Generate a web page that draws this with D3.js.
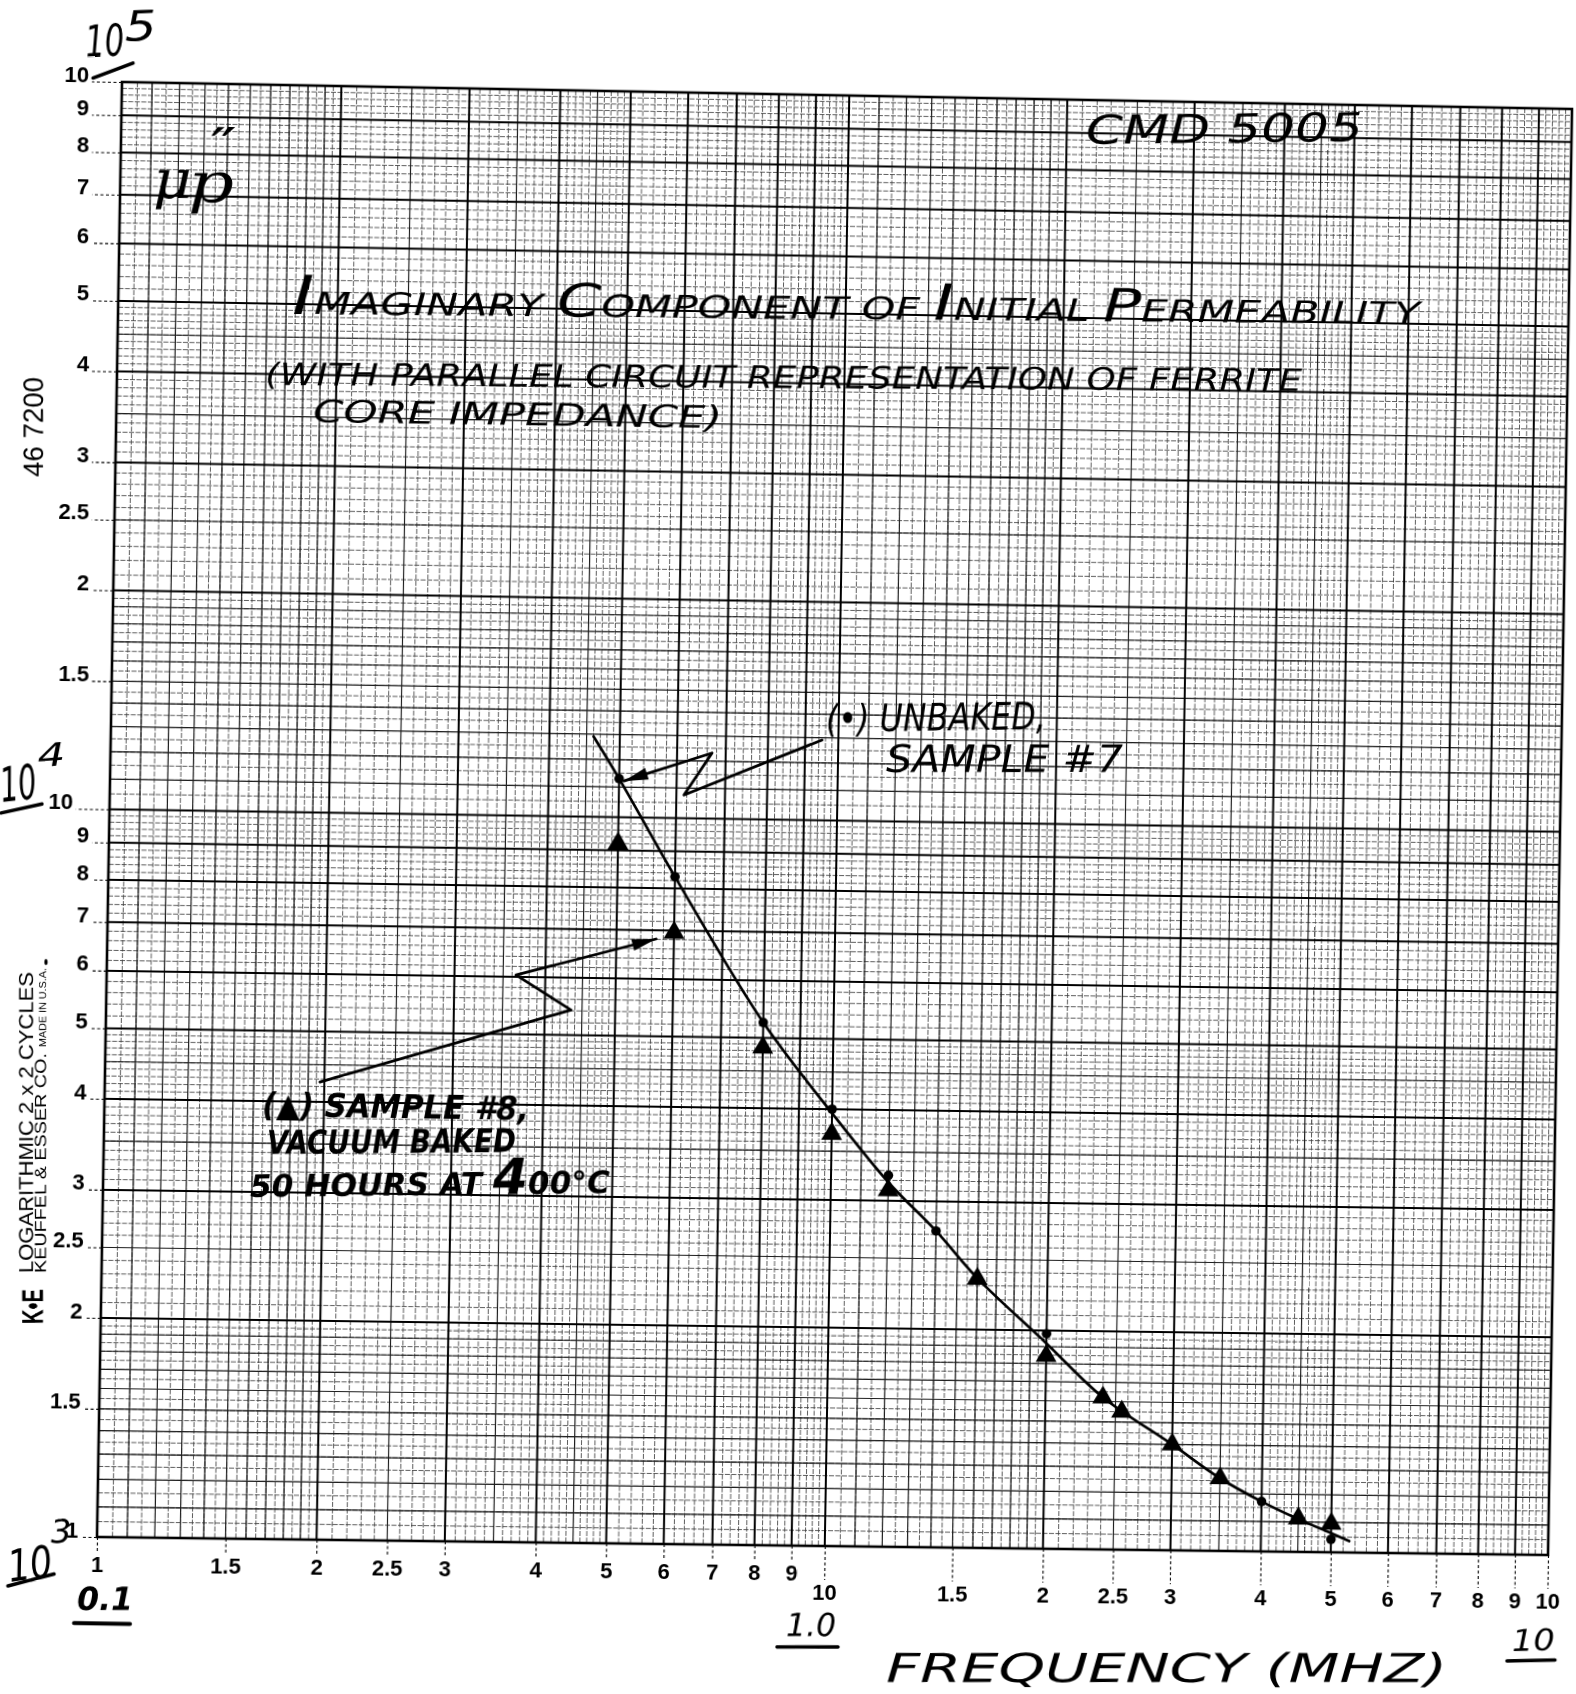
<!DOCTYPE html>
<html>
<head>
<meta charset="utf-8">
<title>Imaginary component of initial permeability</title>
<script src="https://cdn.jsdelivr.net/npm/d3@7/dist/d3.min.js"></script>
<style>
  html, body { margin: 0; padding: 0; background: #fff; overflow: hidden; }
  #sheet { position: absolute; left: 0; top: 0; transform-origin: 0 0; overflow: visible; }
</style>
</head>
<body>
<svg id="sheet" width="1576" height="1694"></svg>
<script>
// ---- values ----
const xTickVals = [0.1, 0.15, 0.2, 0.25, 0.3, 0.4, 0.5, 0.6, 0.7, 0.8, 0.9];
const xTickLabels = ["1", "1.5", "2", "2.5", "3", "4", "5", "6", "7", "8", "9"];
const xTickVals2 = [1, 1.5, 2, 2.5, 3, 4, 5, 6, 7, 8, 9, 10];
const xTickLabels2 = ["10", "1.5", "2", "2.5", "3", "4", "5", "6", "7", "8", "9", "10"];
const yTickVals = [1e3, 1.5e3, 2e3, 2.5e3, 3e3, 4e3, 5e3, 6e3, 7e3, 8e3, 9e3,
                   1e4, 1.5e4, 2e4, 2.5e4, 3e4, 4e4, 5e4, 6e4, 7e4, 8e4, 9e4, 1e5];
const yTickLabels = ["1", "1.5", "2", "2.5", "3", "4", "5", "6", "7", "8", "9",
                     "10", "1.5", "2", "2.5", "3", "4", "5", "6", "7", "8", "9", "10"];

// (•) unbaked, sample #7
const unbakedFreq = [0.5, 0.6, 0.8, 1.0, 1.2, 1.4, 2.0, 4.0, 5.0];
const unbakedMu   = [11300, 8300, 5250, 4000, 3250, 2730, 1980, 1172, 1042];
// (▲) sample #8, vacuum baked
const bakedFreq = [0.5, 0.6, 0.8, 1.0, 1.2, 1.6, 2.0, 2.4, 2.55, 3.0, 3.5, 4.5, 5.0];
const bakedMu   = [9200, 6950, 4850, 3700, 3100, 2350, 1845, 1620, 1550, 1400, 1260, 1112, 1095];
// hand drawn curve
const curveFreq = [0.46, 0.5, 0.6, 0.8, 1.0, 1.2, 1.4, 1.6, 2.0, 2.4, 3.0, 3.5, 4.0, 4.5, 5.0, 5.3];
const curveMu   = [12900, 11300, 8300, 5250, 3950, 3180, 2730, 2355, 1920, 1622, 1400, 1260, 1172, 1110, 1063, 1037];

// ---- sheet geometry: frame in paper coords, and where the scan puts its corners ----
const L = 120, T = 80, W = 1450, H = 1455, B = T + H, R = L + W;
const corners = [[122, 82], [1572, 109], [1548, 1555], [97, 1537]]; // TL, TR, BR, BL

function squareToQuad(q) {
  const [[x0, y0], [x1, y1], [x2, y2], [x3, y3]] = q;
  const dx1 = x1 - x2, dx2 = x3 - x2, dx3 = x0 - x1 + x2 - x3;
  const dy1 = y1 - y2, dy2 = y3 - y2, dy3 = y0 - y1 + y2 - y3;
  const den = dx1 * dy2 - dx2 * dy1;
  const g = (dx3 * dy2 - dx2 * dy3) / den;
  const h = (dx1 * dy3 - dx3 * dy1) / den;
  return [[x1 - x0 + g * x1, x3 - x0 + h * x3, x0],
          [y1 - y0 + g * y1, y3 - y0 + h * y3, y0],
          [g, h, 1]];
}
function matMul(a, b) {
  return a.map(r => [0, 1, 2].map(j => r[0] * b[0][j] + r[1] * b[1][j] + r[2] * b[2][j]));
}
function matInv(m) {
  const [[a, b, c], [d, e, f], [g, h, i]] = m;
  const c00 = e * i - f * h, c01 = -(d * i - f * g), c02 = d * h - e * g;
  const det = a * c00 + b * c01 + c * c02;
  return [[c00 / det, -(b * i - c * h) / det, (b * f - c * e) / det],
          [c01 / det, (a * i - c * g) / det, -(a * f - c * d) / det],
          [c02 / det, -(a * h - b * g) / det, (a * e - b * d) / det]];
}
function apply(m, x, y) {
  const w = m[2][0] * x + m[2][1] * y + m[2][2];
  return [(m[0][0] * x + m[0][1] * y + m[0][2]) / w, (m[1][0] * x + m[1][1] * y + m[1][2]) / w];
}
const Hm = matMul(squareToQuad(corners), [[1 / W, 0, -L / W], [0, 1 / H, -T / H], [0, 0, 1]]);
const Hi = matInv(Hm);
const toScreen = (x, y) => apply(Hm, x, y);
const toPaper = (x, y) => apply(Hi, x, y);

const svg = d3.select("#sheet")
  .style("transform", `matrix3d(${Hm[0][0]},${Hm[1][0]},0,${Hm[2][0]},${Hm[0][1]},${Hm[1][1]},0,${Hm[2][1]},0,0,1,0,${Hm[0][2]},${Hm[1][2]},0,${Hm[2][2]})`);

svg.append("rect").attr("x", -200).attr("y", -200).attr("width", 2000).attr("height", 2100).attr("fill", "#fff");

// scales
const x = d3.scaleLog().domain([0.1, 10]).range([L, R]);
const y = d3.scaleLog().domain([1e3, 1e5]).range([B, T]);

// ---- log-log paper grid ----
const grid = svg.append("g");
const decX = [0.1, 1], decY = [1e3, 1e4];
const isInt = m => Math.abs(m - Math.round(m)) < 1e-6;
const fineM = d3.range(1.05, 2, 0.05).concat(d3.range(2.1, 5, 0.1), d3.range(5.2, 10, 0.2))
  .filter(m => !isInt(m));
const midM = [1.1, 1.2, 1.3, 1.4, 1.5, 1.6, 1.7, 1.8, 1.9, 2.5, 3.5, 4.5];
const majM = [1, 2, 3, 4, 5, 6, 7, 8, 9];

function gridSet(ms, color, w, dash) {
  const xs = decX.flatMap(d => ms.map(m => d * m)).filter(v => v > 0.1 && v < 10);
  const ys = decY.flatMap(d => ms.map(m => d * m)).filter(v => v > 1e3 && v < 1e5);
  const g = grid.append("g").attr("stroke", color).attr("stroke-width", w)
    .attr("stroke-dasharray", dash);
  g.selectAll(null).data(xs).join("line")
    .attr("x1", d => x(d)).attr("x2", d => x(d)).attr("y1", T).attr("y2", B);
  g.selectAll(null).data(ys).join("line")
    .attr("y1", d => y(d)).attr("y2", d => y(d)).attr("x1", L).attr("x2", R);
}
gridSet(fineM, "#404040", 0.85, "5 1.5");
gridSet(midM, "#1e1e1e", 1.15, null);
gridSet(majM, "#000", 2, null);
grid.append("rect").attr("x", L).attr("y", T).attr("width", W).attr("height", H)
  .attr("fill", "none").attr("stroke", "#000").attr("stroke-width", 2.6);

// ---- printed axes ----
const tickFont = "'Liberation Sans', Arial, sans-serif";
function styleAxis(g) {
  g.attr("font-family", tickFont).attr("font-size", 22).attr("font-weight", "bold");
  g.select(".domain").remove();
  g.selectAll(".tick line").attr("stroke", "#000").attr("stroke-width", 1.1).attr("stroke-dasharray", "3 2.5");
  g.selectAll(".tick text").attr("fill", "#000");
}
svg.append("g").attr("transform", `translate(0,${B})`)
  .call(d3.axisBottom(x).tickValues(xTickVals).tickFormat((d, i) => xTickLabels[i]).tickSize(16).tickPadding(3))
  .call(styleAxis);
svg.append("g").attr("transform", `translate(0,${B})`)
  .call(d3.axisBottom(x).tickValues(xTickVals2).tickFormat((d, i) => xTickLabels2[i]).tickSize(34).tickPadding(4))
  .call(styleAxis);

const yAxisG = svg.append("g").attr("transform", `translate(${L},0)`)
  .call(d3.axisLeft(y).tickValues(yTickVals).tickFormat((d, i) => yTickLabels[i]).tickSize(20).tickPadding(2))
  .call(styleAxis);
yAxisG.selectAll(".tick").each(function(d) {
  const yy = y(d), v = (yy - T) / H;
  const s = toScreen(L, yy);
  const edge = d === 1e4 ? 73 : (v < 0.6 ? 89 : 89 - (v - 0.6) * 27);
  const target = toPaper(edge, s[1]);
  const off = L - target[0];
  d3.select(this).select("line").attr("x2", -off + 3);
  d3.select(this).select("text").attr("x", -off).attr("dy", "0");
});

// ---- curve and points ----
const plot = svg.append("g");
const curvePts = curveFreq.map((f, i) => [x(f), y(curveMu[i])]);
plot.append("path")
  .attr("d", d3.line().curve(d3.curveCatmullRom.alpha(0.5))(curvePts))
  .attr("fill", "none").attr("stroke", "#000").attr("stroke-width", 2.7).attr("stroke-linecap", "round");

plot.selectAll(".tri").data(bakedFreq).join("path").attr("class", "tri")
  .attr("transform", (f, i) => `translate(${x(f)},${y(bakedMu[i])})`)
  .attr("d", d3.symbol(d3.symbolTriangle, 190)).attr("fill", "#000");
plot.selectAll(".dot").data(unbakedFreq).join("circle").attr("class", "dot")
  .attr("cx", f => x(f)).attr("cy", (f, i) => y(unbakedMu[i])).attr("r", 4.8).attr("fill", "#000");

// ---- handwriting and print in the margins (positions given in scan pixels) ----
const notes = svg.append("g").attr("fill", "#000");
const hand = "'DejaVu Sans Condensed', 'DejaVu Sans', sans-serif";

function note(str, p0, p1, size, opt = {}) {
  const a = toPaper(p0[0], p0[1]), b = toPaper(p1[0], p1[1]);
  const ang = Math.atan2(b[1] - a[1], b[0] - a[0]) * 180 / Math.PI;
  const len = Math.hypot(b[0] - a[0], b[1] - a[1]);
  const t = notes.append("text")
    .attr("transform", `translate(${a[0]},${a[1]}) rotate(${ang})`)
    .attr("font-family", opt.family || hand)
    .attr("font-style", opt.style || "italic")
    .attr("font-weight", opt.weight || "normal")
    .attr("font-size", size)
    .attr("textLength", len)
    .attr("lengthAdjust", "spacingAndGlyphs");
  if (Array.isArray(str)) str.forEach(s => t.append("tspan").attr("font-size", s[1] || size).text(s[0]));
  else t.text(str);
  return t;
}
function stroke(pts, w, head) {
  const pp = pts.map(p => toPaper(p[0], p[1]));
  notes.append("path").attr("d", d3.line()(pp)).attr("fill", "none").attr("stroke", "#000")
    .attr("stroke-width", w).attr("stroke-linecap", "round").attr("stroke-linejoin", "round");
  if (head) {
    const [tx, ty] = pp[pp.length - 1], [px, py] = pp[pp.length - 2];
    const len = Math.hypot(tx - px, ty - py), ux = (tx - px) / len, uy = (ty - py) / len;
    const bx = tx - ux * 24, by = ty - uy * 24;
    notes.append("path").attr("d", d3.line()([[tx, ty], [bx - uy * 6, by + ux * 6], [bx + uy * 6, by - ux * 6]]) + "Z");
  }
}

// decade marks
note("10", [86, 57], [125, 55], 44);
note("5", [125, 41], [157, 40], 42);
stroke([[93, 78], [133, 63]], 3.5);
note("10", [2, 802], [38, 798], 48);
note("4", [38, 767], [66, 765], 32);
stroke([[1, 813], [42, 804]], 3.5);
note("10", [10, 1582], [54, 1576], 44);
note("3", [51, 1543], [72, 1542], 32);
stroke([[8, 1586], [54, 1574]], 3.5);
note("0.1", [77, 1610], [133, 1610], 32, {weight: "bold"});
stroke([[74, 1623], [130, 1624]], 4);
note("1.0", [786, 1636], [836, 1636], 32);
stroke([[777, 1647], [838, 1647]], 3.5);
note("10", [1512, 1651], [1555, 1650], 30);
stroke([[1507, 1661], [1555, 1660]], 3.5);

// quantity
note("μ", [153, 198], [192, 198], 54, {family: "'DejaVu Serif', serif"});
note("p", [188, 202], [234, 202], 56, {family: "'DejaVu Serif', serif"});
note("″", [210, 162], [237, 162], 48, {family: "'DejaVu Serif', serif", style: "normal"});

note("CMD 5005", [1086, 144], [1363, 141], 40);

// title
note([["I", 54], ["MAGINARY  "], ["C", 46], ["OMPONENT  OF  "], ["I", 50], ["NITIAL  "], ["P", 46], ["ERMEABILITY"]],
     [292, 314], [1420, 324], 31);
note("(WITH PARALLEL CIRCUIT REPRESENTATION OF FERRITE", [265, 385], [1302, 391], 31);
note("CORE IMPEDANCE)", [313, 422], [722, 428], 31);

// legend notes with arrows
note("(•) UNBAKED,", [826, 732], [1046, 729], 38);
note("SAMPLE #7", [886, 772], [1123, 772], 38);
stroke([[822, 740], [684, 795], [712, 753], [624, 781]], 2.8, true);

note("(▲) SAMPLE #8,", [262, 1116], [529, 1120], 33, {weight: "bold"});
note("VACUUM BAKED", [267, 1154], [516, 1152], 33, {weight: "bold"});
note([["50 HOURS AT "], ["4", 50], ["00°C"]], [250, 1197], [610, 1193], 31, {weight: "bold"});
stroke([[320, 1082], [571, 1010], [516, 975], [656, 939]], 2.8, true);

note("FREQUENCY (MHZ)", [886, 1682], [1447, 1682], 40);

// printed margin
const print = {family: tickFont, style: "normal"};
note("46 7200", [43, 477], [43, 377], 28, print);
note("LOGARITHMIC 2 x 2 CYCLES", [33, 1273], [33, 972], 20, print);
note("KEUFFEL & ESSER CO.", [46, 1273], [46, 1053], 16, print);
note("MADE IN U.S.A.", [46, 1047], [46, 968], 10, print);
note("•", [50, 966], [50, 958], 12, print);
note("K•E", [43, 1324], [43, 1289], 30, {family: tickFont, style: "normal", weight: "bold"});
</script>
</body>
</html>
